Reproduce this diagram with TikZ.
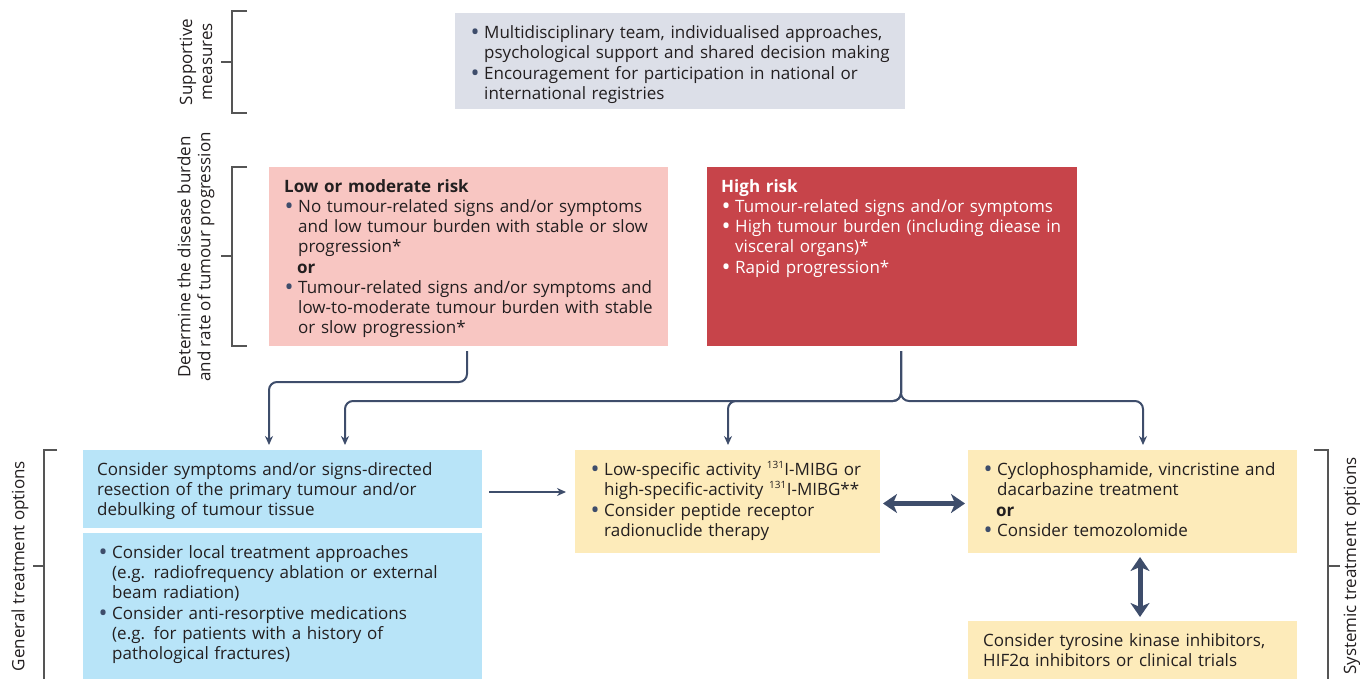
\documentclass[tikz,border=0pt]{standalone}
\usepackage{fontspec}
\setmainfont{Open Sans}
\usepackage{xcolor}
\usetikzlibrary{arrows.meta,positioning,calc}

\definecolor{navy}{HTML}{3E4D6B}
\definecolor{supgrey}{HTML}{DCDFE8}
\definecolor{lowpink}{HTML}{F8C6C2}
\definecolor{highred}{HTML}{C7444A}
\definecolor{genblue}{HTML}{B8E4F8}
\definecolor{sysyellow}{HTML}{FDEBBA}
\definecolor{brkgrey}{HTML}{555555}
\definecolor{textcol}{HTML}{231F20}
\colorlet{bulletc}{navy}

\newcommand{\bitem}[1]{\noindent\makebox[14pt][l]{\hspace{0.5pt}\textcolor{bulletc}{\smash{\raisebox{-2.6pt}{\fontsize{24}{20}\selectfont\textbullet}}}}%
  \parbox[t]{\dimexpr\linewidth-14pt}{\strut#1\strut}\par}
\newcommand{\orline}{\noindent\hspace*{13pt}\strut\textbf{or}\par}
\newcommand{\iso}[1]{\textsuperscript{\fontsize{10}{10}\selectfont#1}}

\tikzset{
  panel/.style 2 args={anchor=north west, inner sep=0pt, outer sep=0pt,
    minimum width=#1, minimum height=#2},
  txt/.style={anchor=north west, inner sep=0pt, align=left, text=textcol,
    font=\fontsize{17}{20}\selectfont},
  sidelabel/.style={rotate=90, align=center, inner sep=0pt, text=textcol,
    font=\fontsize{17}{20}\selectfont},
  brk/.style={draw=brkgrey, line width=1.5pt},
  conn/.style={draw=navy, line width=2pt, rounded corners=8pt,
    -{Stealth[length=9pt,width=8pt]}},
  dbl/.style={draw=navy, line width=5pt,
    {Stealth[length=14pt,width=19pt,inset=4pt]}-{Stealth[length=14pt,width=19pt,inset=4pt]}}
}

\begin{document}
\begin{tikzpicture}[x=1pt, y=-1pt]
\useasboundingbox (0,0) rectangle (1360,679);

% side labels and brackets
\node (supl) [sidelabel] at (196,62) {Supportive\\measures};
\node (detl) [sidelabel] at (196,257) {Determine the disease burden\\and rate of tumour progression};
\node (genl) [sidelabel] at (20,566) {General treatment options};
\node (sysl) [sidelabel] at (1352,566) {Systemic treatment options};

\draw[brk] (247,11) -- (232,11) -- (232,113) -- (247,113);
\draw[brk] (221,62) -- (232,62);
\draw[brk] (247,167) -- (232,167) -- (232,346) -- (247,346);
\draw[brk] (221,256) -- (232,256);
\draw[brk] (57,450) -- (44,450) -- (44,680);
\draw[brk] (33,566) -- (44,566);
\draw[brk] (1314,450) -- (1328,450) -- (1328,680);
\draw[brk] (1328,566) -- (1340,566);

% boxes
\node (sup) [panel={450pt}{96pt}, fill=supgrey] at (455,13) {};
\node (low) [panel={399pt}{179pt}, fill=lowpink] at (269,167) {};
\node (high) [panel={370pt}{179pt}, fill=highred] at (707,167) {};
\node (blue1) [panel={399pt}{78pt}, fill=genblue] at (83,450) {};
\node (blue2) [panel={399pt}{146pt}, fill=genblue] at (83,533) {};
\node (yel1) [panel={305pt}{103pt}, fill=sysyellow] at (575,450) {};
\node (yel2) [panel={329pt}{103pt}, fill=sysyellow] at (968,450) {};
\node (yel3) [panel={329pt}{58pt}, fill=sysyellow] at (968,621) {};

% box texts
\node (suptext) [txt, text width=430pt] at ([shift={(15pt,-11pt)}]sup.north west) {%
  \bitem{Multidisciplinary team, individualised approaches,\\psychological support and shared decision making}%
  \bitem{Encouragement for participation in national or\\international registries}};
\node (lowtext) [txt, text width=380pt] at ([shift={(15pt,-11pt)}]low.north west) {%
  \strut\textbf{Low or moderate risk}\par
  \bitem{No tumour-related signs and/or symptoms\\and low tumour burden with stable or slow\\progression*}%
  \orline
  \bitem{Tumour-related signs and/or symptoms and\\low-to-moderate tumour burden with stable\\or slow progression*}};
\node (hightext) [txt, text width=350pt, text=white] at ([shift={(14pt,-11pt)}]high.north west) {%
  \colorlet{bulletc}{white}%
  \strut\textbf{High risk}\par
  \bitem{Tumour-related signs and/or symptoms}%
  \bitem{High tumour burden (including diease in\\visceral organs)*}%
  \bitem{Rapid progression*}};
\node (blue1text) [txt, text width=380pt] at ([shift={(14pt,-11pt)}]blue1.north west) {%
  \strut Consider symptoms and/or signs-directed\\resection of the primary tumour and/or\\debulking of tumour tissue};
\node (blue2text) [txt, text width=380pt] at ([shift={(15pt,-11pt)}]blue2.north west) {%
  \bitem{Consider local treatment approaches\\(e.g. radiofrequency ablation or external\\beam radiation)}%
  \bitem{Consider anti-resorptive medications\\(e.g. for patients with a history of\\pathological fractures)}};
\node (yel1text) [txt, text width=288pt] at ([shift={(15pt,-11pt)}]yel1.north west) {%
  \bitem{Low-specific activity \iso{131}I-MIBG or\\high-specific-activity \iso{131}I-MIBG**}%
  \bitem{Consider peptide receptor\\radionuclide therapy}};
\node (yel2text) [txt, text width=312pt] at ([shift={(15pt,-11pt)}]yel2.north west) {%
  \bitem{Cyclophosphamide, vincristine and\\dacarbazine treatment}%
  \orline
  \bitem{Consider temozolomide}};
\node (yel3text) [txt, text width=312pt] at ([shift={(15pt,-11pt)}]yel3.north west) {%
  \strut Consider tyrosine kinase inhibitors,\\HIF2α inhibitors or clinical trials};

% connectors
\coordinate (lowout) at (467,351);
\coordinate (lowbend) at (269,382);
\coordinate (highout) at (901,351);
\coordinate (leftdrop) at (345,401);
\coordinate (middrop) at (728,401);
\coordinate (rightdrop) at (1143,401);
\coordinate (vx) at (1140,0);

\draw[conn, shorten >=5pt] (lowout) |- (lowbend) -- (lowbend |- blue1.north);
\draw[conn, shorten >=5pt] (highout) |- (leftdrop) -- (leftdrop |- blue1.north);
\draw[conn, shorten >=5pt] (highout) |- (middrop) -- (middrop |- yel1.north);
\draw[conn, shorten >=5pt] (highout) |- (rightdrop) -- (rightdrop |- yel2.north);
\draw[conn, shorten <=7pt, shorten >=9pt] ([yshift=-3pt]blue1.east) -- ([yshift=-3pt]blue1.east -| yel1.west);
\draw[dbl, shorten <=3pt, shorten >=3pt] ([yshift=-2pt]yel1.east) -- ([yshift=-2pt]yel2.west);
\draw[dbl, shorten <=4pt, shorten >=4pt] (yel2.south -| vx) -- (yel3.north -| vx);
\end{tikzpicture}
\end{document}
